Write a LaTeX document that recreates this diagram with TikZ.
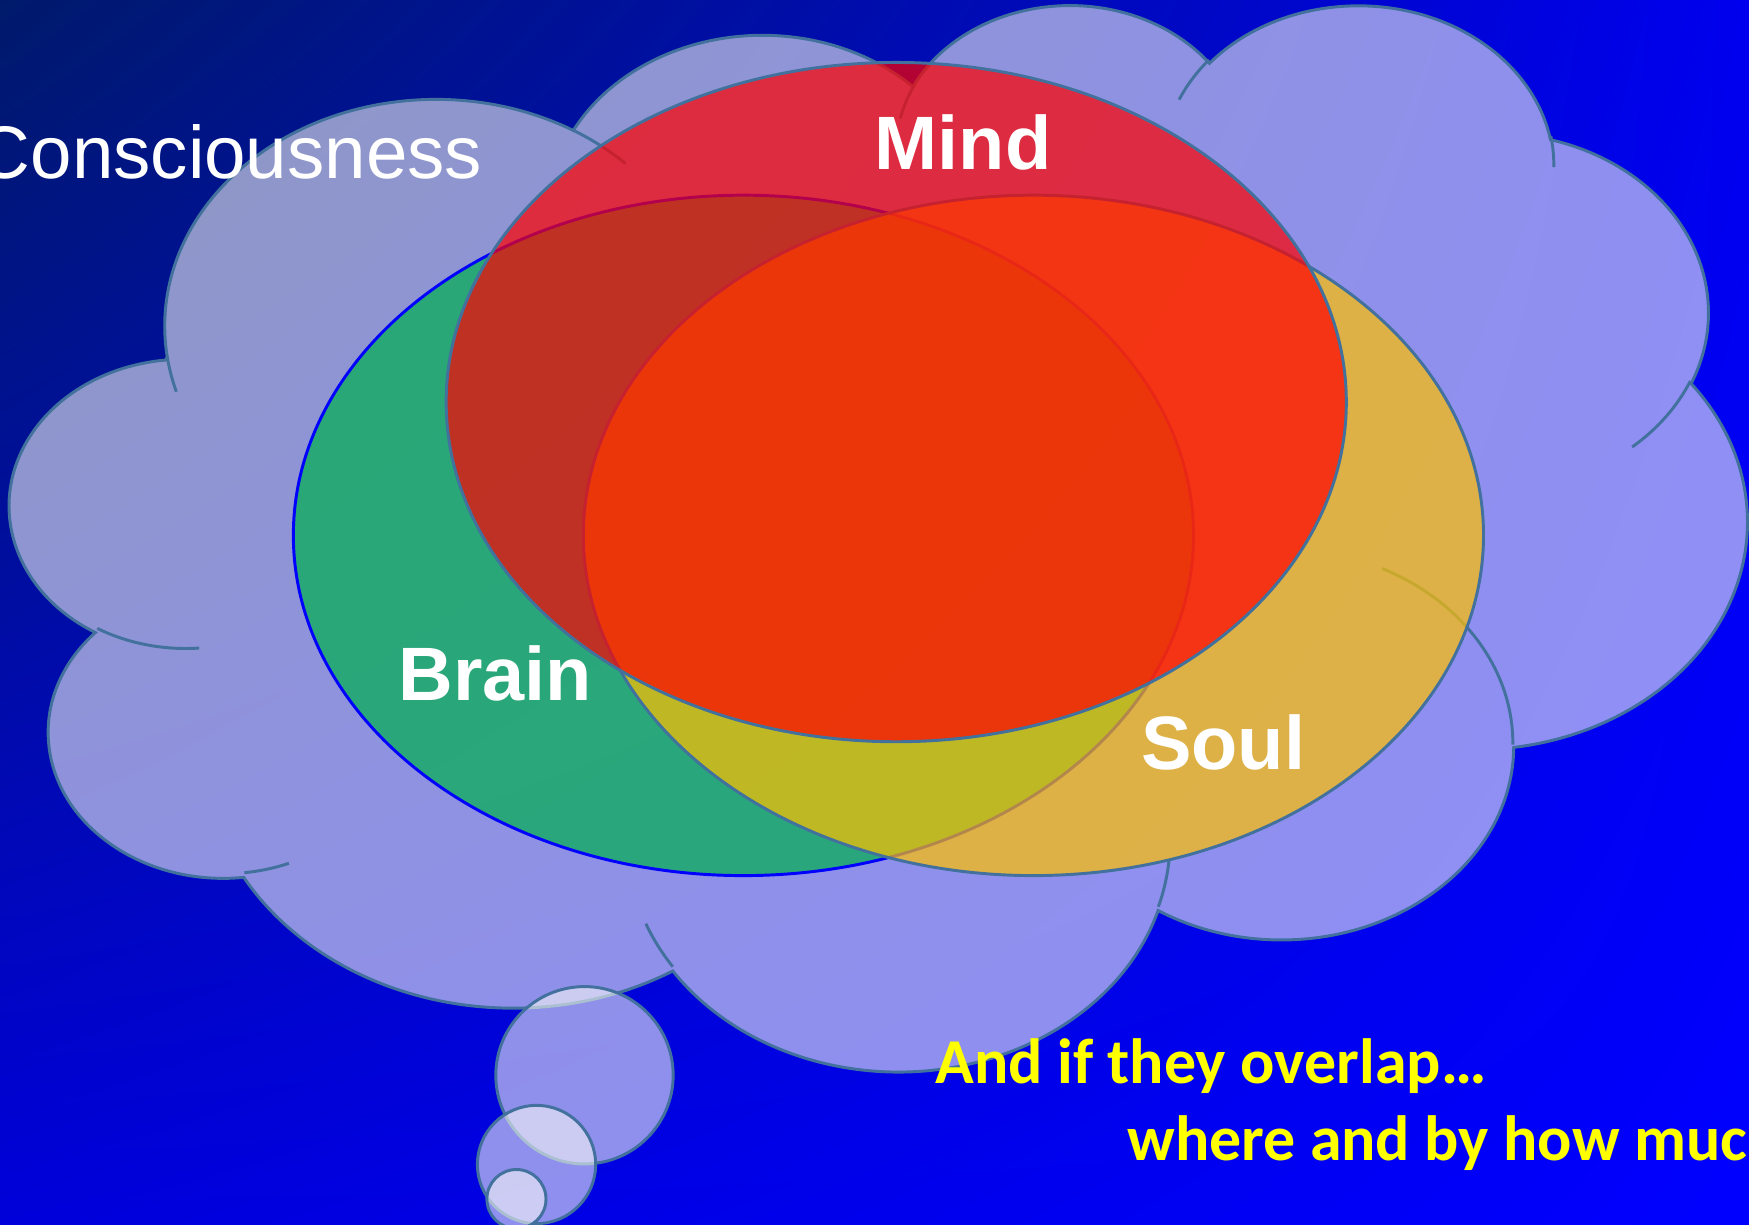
\documentclass[tikz,border=0pt]{standalone}
\usepackage{fontspec}
\usetikzlibrary{shadings}
\setmainfont{Liberation Sans}
\newfontfamily\calib{Carlito}
\definecolor{bgTL}{RGB}{0,26,107}
\definecolor{bgTR}{RGB}{0,0,238}
\definecolor{bgBL}{RGB}{0,0,218}
\definecolor{bgBR}{RGB}{0,0,255}
\definecolor{cloudc}{RGB}{250,250,248}
\definecolor{cloudline}{RGB}{65,113,156}
\definecolor{brainc}{RGB}{0,176,80}
\definecolor{soulc}{RGB}{255,192,0}
\definecolor{mindc}{RGB}{255,0,0}
\definecolor{noteyellow}{RGB}{255,255,0}
\pgfmathdeclarefunction{pang}{3}{\pgfmathparse{atan2((#1)*sin(#3),(#2)*cos(#3))}}
\newcommand\carc[4]{arc[x radius=#1,y radius=#2,start angle={pang(#1,#2,#3)},delta angle={mod(pang(#1,#2,(#3)+(#4))-pang(#1,#2,#3)+720,360)}]}
\begin{document}
\begin{tikzpicture}[x=0.01cm,y=-0.01cm,
  cloudfill/.style={fill=cloudc,fill opacity=0.573},
  cloudedge/.style={draw=cloudline,line width=0.75pt},
  venn/.style={fill opacity=0.7,line width=0.75pt},
  vlabel/.style={text=white,font=\fontsize{19.3pt}{22pt}\selectfont\bfseries,inner sep=0pt,anchor=base},
  notetext/.style={text=noteyellow,font=\calib\fontsize{16.3pt}{20pt}\selectfont\bfseries,inner sep=0pt,anchor=base west}]
\useasboundingbox (0,0) rectangle (1568,1098);
\clip (0,0) rectangle (1568,1098);
\shade[upper left=bgTL,upper right=bgTR,lower left=bgBL,lower right=bgBR] (0,0) rectangle (1568,1098);
% cloud
\begin{scope}[shift={(9.4,1.9)},x=0.036015cm,y=-0.022106cm]
 \path[cloudfill,cloudedge] (39.00,143.70)
   \carc{67.53}{91.90}{-190.4875}{123.7805}
   \carc{53.33}{72.67}{-144.1024}{89.9452}
   \carc{43.65}{59.45}{-145.8079}{99.7230}
   \carc{48.57}{65.95}{-130.9861}{117.2417}
   \carc{53.33}{72.73}{-78.7089}{109.0269}
   \carc{67.75}{92.20}{-46.2673}{130.2690}
   \carc{57.85}{78.67}{0.6250}{114.0333}
   \carc{67.52}{92.15}{22.4516}{115.1726}
   \carc{77.20}{105.43}{66.2426}{75.7110}
   \carc{43.60}{59.18}{-274.9421}{146.7356}
   \carc{43.45}{59.45}{-246.8285}{152.5189}
   -- cycle;
 \draw[cloudedge]
   (46.93,261.77) \carc{43.45}{59.45}{86.742}{26.4295}
   (69.28,348.99) \carc{43.60}{59.18}{73.611}{11.4475}
   (164.78,390.90) \carc{67.52}{92.15}{137.6242}{14.0811}
   (288.27,347.51) \carc{67.52}{92.15}{6.4533}{15.9984}
   (341.29,229.54) \carc{57.85}{78.67}{-70.2924}{70.9174}
   (417.98,153.54) \carc{53.33}{72.73}{30.3180}{27.7515}
   (383.24,54.26) \carc{48.57}{65.95}{-13.7443}{14.8589}
   (290.78,39.52) \carc{48.57}{65.95}{-149.1815}{18.1954}
   (221.41,47.20) \carc{43.65}{59.45}{-163.4943}{17.6864}
   (140.00,51.92) \carc{67.53}{91.90}{-66.7070}{12.3194}
   (41.27,157.89) \carc{67.53}{91.90}{157.6544}{11.8582};
\end{scope}
% thought bubbles
\path[cloudfill,cloudedge] (524,964) circle [radius=79.5];
\path[cloudfill,cloudedge] (481,1044) circle [radius=53];
\path[cloudfill,cloudedge] (463,1075) circle [radius=26.5];
% Venn ellipses
\path[venn,fill=brainc,draw=blue] (666.5,480) ellipse [x radius=403.5,y radius=305];
\path[venn,fill=soulc,draw=cloudline] (926.5,480) ellipse [x radius=403.5,y radius=305];
\path[venn,fill=mindc,draw=cloudline] (803.5,360.5) ellipse [x radius=403.5,y radius=304.5];
% labels
\node[vlabel] (mind) at (863.5,152) {Mind};
\node[vlabel] (brain) at (444,628) {Brain};
\node[vlabel] (soul) at (1096.5,690) {Soul};
\node[text=white,font=\fontsize{19pt}{22pt}\selectfont,inner sep=0pt,anchor=base east] (consc) at (433,160) {Consciousness};
\node[notetext] (note1) at (838,971) {And if they overlap…};
\node[notetext] (note2) at (1010,1040) {where and by how much};
\end{tikzpicture}
\end{document}
